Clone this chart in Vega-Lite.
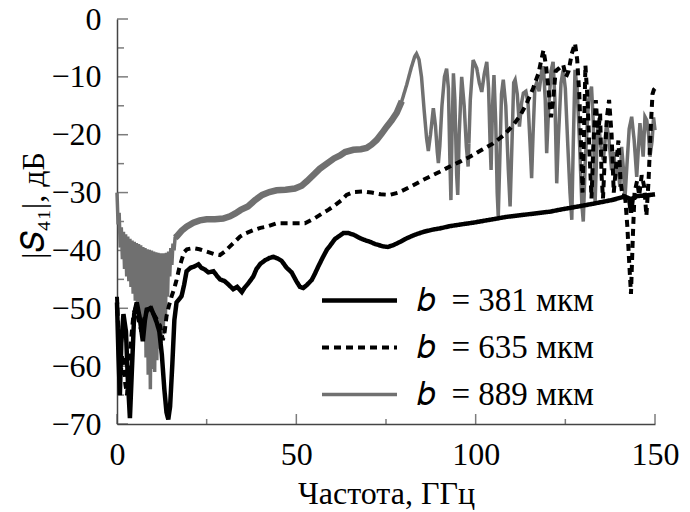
{
"$schema": "https://vega.github.io/schema/vega-lite/v6.json",
"width": 538, "height": 405,
"autosize": {"type": "none"},
"padding": {"left": 117, "top": 19, "right": 35, "bottom": 88},
"background": "white",
"config": {
  "view": {"stroke": null},
  "font": "Liberation Serif",
  "axis": {"grid": false, "ticks": false, "domainColor": "#444", "domainWidth": 1.5,
    "labelFont": "Liberation Serif", "labelFontSize": 32, "labelColor": "#000", "labelFlush": false,
    "titleFont": "Liberation Serif", "titleFontSize": 32, "titleFontWeight": "normal", "titleColor": "#000"}
},
"data": {"values": [
{"s":"889","f":0.0,"v":-30.0},{"s":"889","f":0.3,"v":-35.5},{"s":"889","f":0.6,"v":-33.5},{"s":"889","f":0.9,"v":-39.5},{"s":"889","f":1.2,"v":-36.0},{"s":"889","f":1.5,"v":-41.5},{"s":"889","f":1.8,"v":-36.8},{"s":"889","f":2.1,"v":-43.2},{"s":"889","f":2.4,"v":-37.2},{"s":"889","f":2.7,"v":-44.5},{"s":"889","f":3.0,"v":-37.6},{"s":"889","f":3.3,"v":-45.3},{"s":"889","f":3.6,"v":-38.0},{"s":"889","f":3.9,"v":-46.3},{"s":"889","f":4.2,"v":-38.3},{"s":"889","f":4.5,"v":-47.5},{"s":"889","f":4.8,"v":-38.5},{"s":"889","f":5.1,"v":-48.7},{"s":"889","f":5.4,"v":-38.7},{"s":"889","f":5.7,"v":-49.5},{"s":"889","f":6.0,"v":-38.9},{"s":"889","f":6.3,"v":-50.2},{"s":"889","f":6.6,"v":-39.1},{"s":"889","f":6.9,"v":-52.5},{"s":"889","f":7.2,"v":-39.4},{"s":"889","f":7.5,"v":-55.0},{"s":"889","f":7.8,"v":-39.6},{"s":"889","f":8.1,"v":-58.5},{"s":"889","f":8.4,"v":-39.8},{"s":"889","f":8.7,"v":-61.5},{"s":"889","f":9.0,"v":-39.9},{"s":"889","f":9.3,"v":-64.0},{"s":"889","f":9.6,"v":-40.0},{"s":"889","f":9.9,"v":-60.5},{"s":"889","f":10.2,"v":-40.2},{"s":"889","f":10.5,"v":-61.0},{"s":"889","f":10.8,"v":-40.3},{"s":"889","f":11.1,"v":-59.0},{"s":"889","f":11.4,"v":-40.4},{"s":"889","f":11.7,"v":-57.0},{"s":"889","f":12.0,"v":-40.5},{"s":"889","f":12.3,"v":-56.0},{"s":"889","f":12.6,"v":-40.5},{"s":"889","f":12.9,"v":-54.5},{"s":"889","f":13.2,"v":-40.5},{"s":"889","f":13.5,"v":-51.5},{"s":"889","f":13.8,"v":-40.4},{"s":"889","f":14.1,"v":-48.0},{"s":"889","f":14.4,"v":-40.2},{"s":"889","f":14.7,"v":-44.5},{"s":"889","f":15.0,"v":-39.6},{"s":"889","f":15.3,"v":-42.5},{"s":"889","f":15.6,"v":-38.8},{"s":"889","f":15.9,"v":-40.0},{"s":"889","f":16.2,"v":-37.8},
{"s":"889","f":16.6,"v":-37.6},{"s":"889","f":18.0,"v":-36.6},{"s":"889","f":19.4,"v":-35.9},{"s":"889","f":21.3,"v":-35.2},{"s":"889","f":23.1,"v":-34.8},{"s":"889","f":25.0,"v":-34.6},{"s":"889","f":27.3,"v":-34.6},{"s":"889","f":29.6,"v":-34.5},{"s":"889","f":31.5,"v":-34.1},{"s":"889","f":33.0,"v":-33.6},{"s":"889","f":34.5,"v":-33.0},{"s":"889","f":36.5,"v":-32.4},{"s":"889","f":38.5,"v":-31.3},{"s":"889","f":40.5,"v":-30.4},{"s":"889","f":42.5,"v":-29.9},{"s":"889","f":44.5,"v":-29.6},{"s":"889","f":47.0,"v":-29.5},{"s":"889","f":49.6,"v":-29.3},{"s":"889","f":51.5,"v":-28.8},{"s":"889","f":53.0,"v":-28.0},{"s":"889","f":55.0,"v":-26.8},{"s":"889","f":56.5,"v":-25.9},{"s":"889","f":58.5,"v":-25.0},{"s":"889","f":60.5,"v":-24.1},{"s":"889","f":62.2,"v":-23.6},{"s":"889","f":63.6,"v":-23.0},{"s":"889","f":65.9,"v":-22.6},{"s":"889","f":68.0,"v":-22.5},{"s":"889","f":69.6,"v":-22.3},{"s":"889","f":71.0,"v":-21.7},{"s":"889","f":72.4,"v":-20.9},{"s":"889","f":73.8,"v":-19.8},{"s":"889","f":75.2,"v":-18.6},{"s":"889","f":76.6,"v":-17.5},{"s":"889","f":78.0,"v":-16.2},{"s":"889","f":79.4,"v":-14.2},{"s":"889","f":80.8,"v":-11.3},{"s":"889","f":82.0,"v":-8.5},{"s":"889","f":83.0,"v":-6.5},{"s":"889","f":83.5,"v":-6.0},{"s":"889","f":84.2,"v":-7.0},{"s":"889","f":84.9,"v":-10.0},{"s":"889","f":85.6,"v":-15.5},{"s":"889","f":86.3,"v":-20.5},{"s":"889","f":86.8,"v":-22.8},{"s":"889","f":87.4,"v":-20.0},{"s":"889","f":88.2,"v":-15.4},{"s":"889","f":88.8,"v":-18.5},{"s":"889","f":89.3,"v":-23.0},{"s":"889","f":89.6,"v":-24.9},{"s":"889","f":90.0,"v":-22.0},{"s":"889","f":90.6,"v":-15.0},{"s":"889","f":91.3,"v":-10.0},{"s":"889","f":91.9,"v":-8.6},{"s":"889","f":92.4,"v":-12.0},{"s":"889","f":92.8,"v":-24.0},{"s":"889","f":93.1,"v":-31.3},{"s":"889","f":93.4,"v":-20.0},{"s":"889","f":93.8,"v":-9.4},{"s":"889","f":94.2,"v":-14.0},{"s":"889","f":94.7,"v":-27.0},{"s":"889","f":95.0,"v":-30.4},{"s":"889","f":95.4,"v":-20.0},{"s":"889","f":96.1,"v":-10.0},{"s":"889","f":96.8,"v":-15.0},{"s":"889","f":97.4,"v":-22.0},{"s":"889","f":97.9,"v":-25.5},{"s":"889","f":98.5,"v":-14.0},{"s":"889","f":99.3,"v":-7.1},{"s":"889","f":100.3,"v":-8.5},{"s":"889","f":101.0,"v":-11.0},{"s":"889","f":101.7,"v":-12.6},{"s":"889","f":102.4,"v":-9.5},{"s":"889","f":103.1,"v":-7.4},{"s":"889","f":103.6,"v":-12.0},{"s":"889","f":104.0,"v":-21.0},{"s":"889","f":104.3,"v":-26.1},{"s":"889","f":104.7,"v":-15.0},{"s":"889","f":105.1,"v":-9.7},{"s":"889","f":105.6,"v":-18.0},{"s":"889","f":106.0,"v":-30.0},{"s":"889","f":106.3,"v":-34.2},{"s":"889","f":106.7,"v":-25.0},{"s":"889","f":107.2,"v":-13.0},{"s":"889","f":107.7,"v":-10.5},{"s":"889","f":108.4,"v":-15.0},{"s":"889","f":109.1,"v":-26.0},{"s":"889","f":109.6,"v":-32.4},{"s":"889","f":110.1,"v":-22.0},{"s":"889","f":110.6,"v":-11.0},{"s":"889","f":111.0,"v":-10.5},{"s":"889","f":111.6,"v":-13.0},{"s":"889","f":112.2,"v":-18.6},{"s":"889","f":112.8,"v":-14.5},{"s":"889","f":113.3,"v":-12.8},{"s":"889","f":114.0,"v":-12.5},{"s":"889","f":114.6,"v":-14.5},{"s":"889","f":115.2,"v":-22.0},{"s":"889","f":115.6,"v":-27.5},{"s":"889","f":116.0,"v":-20.0},{"s":"889","f":116.5,"v":-12.0},{"s":"889","f":117.0,"v":-11.0},{"s":"889","f":117.7,"v":-12.5},{"s":"889","f":118.4,"v":-9.0},{"s":"889","f":118.9,"v":-8.2},{"s":"889","f":119.4,"v":-14.0},{"s":"889","f":119.8,"v":-23.2},{"s":"889","f":120.3,"v":-16.0},{"s":"889","f":121.0,"v":-9.0},{"s":"889","f":121.6,"v":-7.4},{"s":"889","f":122.1,"v":-14.0},{"s":"889","f":122.6,"v":-28.4},{"s":"889","f":123.1,"v":-20.0},{"s":"889","f":123.8,"v":-11.0},{"s":"889","f":124.4,"v":-8.8},{"s":"889","f":125.0,"v":-12.0},{"s":"889","f":125.7,"v":-22.0},{"s":"889","f":126.3,"v":-30.0},{"s":"889","f":126.8,"v":-34.7},{"s":"889","f":127.2,"v":-22.0},{"s":"889","f":127.7,"v":-8.8},{"s":"889","f":128.3,"v":-12.0},{"s":"889","f":129.0,"v":-22.0},{"s":"889","f":129.6,"v":-32.0},{"s":"889","f":130.0,"v":-35.0},{"s":"889","f":130.6,"v":-24.0},{"s":"889","f":131.5,"v":-14.0},{"s":"889","f":132.3,"v":-11.7},{"s":"889","f":132.8,"v":-18.0},{"s":"889","f":133.3,"v":-31.8},{"s":"889","f":133.8,"v":-22.0},{"s":"889","f":134.2,"v":-17.5},{"s":"889","f":134.9,"v":-22.0},{"s":"889","f":135.6,"v":-24.4},{"s":"889","f":136.5,"v":-18.0},{"s":"889","f":137.2,"v":-21.0},{"s":"889","f":137.9,"v":-26.1},{"s":"889","f":138.5,"v":-23.0},{"s":"889","f":139.0,"v":-27.0},{"s":"889","f":139.6,"v":-25.0},{"s":"889","f":140.2,"v":-29.0},{"s":"889","f":140.7,"v":-22.1},{"s":"889","f":141.2,"v":-26.0},{"s":"889","f":141.6,"v":-31.3},{"s":"889","f":142.2,"v":-25.0},{"s":"889","f":142.8,"v":-19.0},{"s":"889","f":143.5,"v":-16.9},{"s":"889","f":144.2,"v":-21.0},{"s":"889","f":144.9,"v":-27.3},{"s":"889","f":145.4,"v":-22.0},{"s":"889","f":145.8,"v":-18.0},{"s":"889","f":146.3,"v":-21.0},{"s":"889","f":146.7,"v":-23.8},{"s":"889","f":147.2,"v":-16.9},{"s":"889","f":147.7,"v":-17.5},{"s":"889","f":148.2,"v":-20.0},{"s":"889","f":148.6,"v":-23.8},{"s":"889","f":149.2,"v":-21.0},{"s":"889","f":149.6,"v":-17.0},{"s":"889","f":150.0,"v":-19.2},
{"s":"635","f":0.0,"v":-48},{"s":"635","f":0.3,"v":-53},{"s":"635","f":0.6,"v":-57},{"s":"635","f":1.0,"v":-62},{"s":"635","f":1.4,"v":-58},{"s":"635","f":1.8,"v":-58.4},{"s":"635","f":2.3,"v":-63},{"s":"635","f":2.8,"v":-65},{"s":"635","f":3.3,"v":-60},{"s":"635","f":4.0,"v":-55},{"s":"635","f":4.6,"v":-51},{"s":"635","f":5.2,"v":-50},{"s":"635","f":6.0,"v":-52},{"s":"635","f":6.8,"v":-54},{"s":"635","f":7.5,"v":-52},{"s":"635","f":8.3,"v":-50.5},{"s":"635","f":9.2,"v":-50},{"s":"635","f":10.0,"v":-50.8},{"s":"635","f":11.0,"v":-51.8},{"s":"635","f":12.0,"v":-53},{"s":"635","f":12.8,"v":-55.5},{"s":"635","f":13.3,"v":-54},{"s":"635","f":13.8,"v":-51.4},{"s":"635","f":14.5,"v":-49.5},{"s":"635","f":15.2,"v":-48},{"s":"635","f":16.0,"v":-46.5},{"s":"635","f":16.6,"v":-45.1},{"s":"635","f":17.3,"v":-43.2},{"s":"635","f":18.0,"v":-41.7},{"s":"635","f":18.7,"v":-40.3},{"s":"635","f":19.5,"v":-39.8},{"s":"635","f":21.3,"v":-39.6},{"s":"635","f":23.0,"v":-39.8},{"s":"635","f":25.0,"v":-40.2},{"s":"635","f":27.0,"v":-40.6},{"s":"635","f":28.7,"v":-40.8},{"s":"635","f":30.0,"v":-40.2},{"s":"635","f":31.5,"v":-39.3},{"s":"635","f":33.0,"v":-38.4},{"s":"635","f":34.3,"v":-37.6},{"s":"635","f":36.0,"v":-37.0},{"s":"635","f":38.0,"v":-36.5},{"s":"635","f":40.0,"v":-36.1},{"s":"635","f":41.7,"v":-35.9},{"s":"635","f":44.5,"v":-35.3},{"s":"635","f":48.7,"v":-35.3},{"s":"635","f":52.4,"v":-35.3},{"s":"635","f":55.2,"v":-34.4},{"s":"635","f":57.0,"v":-33.7},{"s":"635","f":58.9,"v":-33.0},{"s":"635","f":60.5,"v":-32.3},{"s":"635","f":62.6,"v":-31.3},{"s":"635","f":64.0,"v":-30.4},{"s":"635","f":66.0,"v":-29.9},{"s":"635","f":68.7,"v":-29.8},{"s":"635","f":71.0,"v":-30.0},{"s":"635","f":73.5,"v":-30.3},{"s":"635","f":76.1,"v":-30.4},{"s":"635","f":78.5,"v":-30.0},{"s":"635","f":80.8,"v":-29.3},{"s":"635","f":83.0,"v":-28.6},{"s":"635","f":85.4,"v":-27.8},{"s":"635","f":88.0,"v":-27.0},{"s":"635","f":90.0,"v":-26.4},{"s":"635","f":92.8,"v":-25.5},{"s":"635","f":95.5,"v":-24.7},{"s":"635","f":98.4,"v":-23.8},{"s":"635","f":101.5,"v":-22.7},{"s":"635","f":104.9,"v":-21.5},{"s":"635","f":108.0,"v":-20.0},{"s":"635","f":110.5,"v":-18.3},{"s":"635","f":112.5,"v":-16.6},{"s":"635","f":114.2,"v":-14.6},{"s":"635","f":116.0,"v":-12.0},{"s":"635","f":117.5,"v":-9.4},{"s":"635","f":118.9,"v":-5.4},{"s":"635","f":119.6,"v":-8},{"s":"635","f":120.3,"v":-12},{"s":"635","f":121.0,"v":-17},{"s":"635","f":121.6,"v":-14},{"s":"635","f":122.3,"v":-9},{"s":"635","f":123.3,"v":-8.5},{"s":"635","f":124.4,"v":-7.9},{"s":"635","f":125.2,"v":-10},{"s":"635","f":125.9,"v":-9},{"s":"635","f":126.8,"v":-6},{"s":"635","f":127.7,"v":-4.2},{"s":"635","f":128.3,"v":-7},{"s":"635","f":128.9,"v":-13},{"s":"635","f":129.4,"v":-22},{"s":"635","f":129.8,"v":-30},{"s":"635","f":130.2,"v":-20},{"s":"635","f":130.6,"v":-8},{"s":"635","f":131.2,"v":-14},{"s":"635","f":131.8,"v":-24},{"s":"635","f":132.3,"v":-31},{"s":"635","f":132.8,"v":-22},{"s":"635","f":133.5,"v":-14},{"s":"635","f":134.1,"v":-20},{"s":"635","f":134.7,"v":-16.3},{"s":"635","f":135.1,"v":-27},{"s":"635","f":135.5,"v":-31},{"s":"635","f":136.0,"v":-24},{"s":"635","f":136.6,"v":-17},{"s":"635","f":137.2,"v":-14},{"s":"635","f":137.9,"v":-20},{"s":"635","f":138.5,"v":-30},{"s":"635","f":139.2,"v":-25},{"s":"635","f":139.8,"v":-21},{"s":"635","f":140.4,"v":-28},{"s":"635","f":141.0,"v":-31},{"s":"635","f":141.6,"v":-30},{"s":"635","f":142.3,"v":-36},{"s":"635","f":142.8,"v":-42},{"s":"635","f":143.3,"v":-47.5},{"s":"635","f":143.8,"v":-38},{"s":"635","f":144.3,"v":-30},{"s":"635","f":145.0,"v":-28},{"s":"635","f":145.6,"v":-30.5},{"s":"635","f":146.3,"v":-27},{"s":"635","f":147.0,"v":-29},{"s":"635","f":147.6,"v":-34},{"s":"635","f":148.2,"v":-28},{"s":"635","f":148.8,"v":-19},{"s":"635","f":149.3,"v":-13},{"s":"635","f":149.7,"v":-12.2},{"s":"635","f":150.0,"v":-12},
{"s":"381","f":0.0,"v":-49},{"s":"381","f":0.4,"v":-58},{"s":"381","f":0.8,"v":-65},{"s":"381","f":1.2,"v":-56},{"s":"381","f":1.8,"v":-51},{"s":"381","f":2.5,"v":-54},{"s":"381","f":3.0,"v":-62},{"s":"381","f":3.6,"v":-69},{"s":"381","f":4.2,"v":-60},{"s":"381","f":4.8,"v":-51},{"s":"381","f":5.5,"v":-49},{"s":"381","f":6.3,"v":-51.5},{"s":"381","f":7.2,"v":-55.7},{"s":"381","f":7.8,"v":-52},{"s":"381","f":8.3,"v":-50.2},{"s":"381","f":9.5,"v":-50},{"s":"381","f":10.5,"v":-51.5},{"s":"381","f":11.1,"v":-52.5},{"s":"381","f":11.8,"v":-54},{"s":"381","f":12.5,"v":-58},{"s":"381","f":13.2,"v":-64},{"s":"381","f":13.8,"v":-68},{"s":"381","f":14.3,"v":-69.2},{"s":"381","f":14.8,"v":-67},{"s":"381","f":15.4,"v":-60},{"s":"381","f":16.0,"v":-52},{"s":"381","f":16.6,"v":-49},{"s":"381","f":18.0,"v":-47.9},{"s":"381","f":18.7,"v":-46},{"s":"381","f":19.4,"v":-43.6},{"s":"381","f":20.5,"v":-43},{"s":"381","f":21.5,"v":-42.8},{"s":"381","f":22.7,"v":-42.4},{"s":"381","f":23.5,"v":-43},{"s":"381","f":24.5,"v":-43.3},{"s":"381","f":25.5,"v":-43.8},{"s":"381","f":26.9,"v":-43.6},{"s":"381","f":28.0,"v":-44.5},{"s":"381","f":28.7,"v":-45},{"s":"381","f":30.0,"v":-45.3},{"s":"381","f":30.9,"v":-45.8},{"s":"381","f":32.4,"v":-46.7},{"s":"381","f":33.5,"v":-46.3},{"s":"381","f":34.8,"v":-47.2},{"s":"381","f":35.5,"v":-46.5},{"s":"381","f":36.6,"v":-45.7},{"s":"381","f":38.0,"v":-44.5},{"s":"381","f":38.9,"v":-43.2},{"s":"381","f":40.0,"v":-42.3},{"s":"381","f":41.3,"v":-41.7},{"s":"381","f":42.5,"v":-41.3},{"s":"381","f":43.6,"v":-41.1},{"s":"381","f":44.8,"v":-41.4},{"s":"381","f":45.9,"v":-41.8},{"s":"381","f":47.3,"v":-43.0},{"s":"381","f":48.7,"v":-43.8},{"s":"381","f":50.0,"v":-45.3},{"s":"381","f":51.0,"v":-46.3},{"s":"381","f":51.9,"v":-46.5},{"s":"381","f":52.9,"v":-46.0},{"s":"381","f":54.3,"v":-45.1},{"s":"381","f":55.2,"v":-44.0},{"s":"381","f":56.1,"v":-42.8},{"s":"381","f":57.3,"v":-41.3},{"s":"381","f":58.5,"v":-39.9},{"s":"381","f":59.5,"v":-39.1},{"s":"381","f":60.8,"v":-38.0},{"s":"381","f":62.0,"v":-37.5},{"s":"381","f":63.1,"v":-37.0},{"s":"381","f":64.5,"v":-37.0},{"s":"381","f":66.0,"v":-37.3},{"s":"381","f":67.5,"v":-37.8},{"s":"381","f":69.0,"v":-38.2},{"s":"381","f":70.5,"v":-38.5},{"s":"381","f":72.0,"v":-38.9},{"s":"381","f":74.2,"v":-39.3},{"s":"381","f":75.5,"v":-39.4},{"s":"381","f":77.0,"v":-39.1},{"s":"381","f":79.0,"v":-38.5},{"s":"381","f":80.8,"v":-37.9},{"s":"381","f":83.0,"v":-37.3},{"s":"381","f":85.4,"v":-36.8},{"s":"381","f":88.0,"v":-36.4},{"s":"381","f":90.0,"v":-36.2},{"s":"381","f":92.8,"v":-35.8},{"s":"381","f":96.0,"v":-35.5},{"s":"381","f":99.3,"v":-35.2},{"s":"381","f":104.0,"v":-34.7},{"s":"381","f":108.6,"v":-34.2},{"s":"381","f":114.0,"v":-33.8},{"s":"381","f":120.7,"v":-33.3},{"s":"381","f":124.0,"v":-32.9},{"s":"381","f":128.6,"v":-32.4},{"s":"381","f":133.0,"v":-31.9},{"s":"381","f":137.9,"v":-31.3},{"s":"381","f":141.6,"v":-30.7},{"s":"381","f":142.8,"v":-31},{"s":"381","f":143.3,"v":-33.5},{"s":"381","f":143.8,"v":-31},{"s":"381","f":145.0,"v":-30.6},{"s":"381","f":147.5,"v":-30.5},{"s":"381","f":150.0,"v":-30.3}
]},
"layer": [
  {
    "data": {"values": [{"f": 0}, {"f": 50}, {"f": 100}, {"f": 150}]},
    "mark": {"type": "tick", "orient": "vertical", "color": "#444", "thickness": 1.5, "size": 10, "yOffset": -5},
    "encoding": {
      "x": {"field": "f", "type": "quantitative", "title": "Частота, ГГц", "scale": {"domain": [0, 150], "nice": false}},
      "y": {"datum": -70, "type": "quantitative", "scale": {"domain": [-70, 0], "nice": false}}
    }
  },
  {
    "data": {"values": [{"f": 25}, {"f": 75}, {"f": 125}]},
    "mark": {"type": "tick", "orient": "vertical", "color": "#444", "thickness": 1.5, "size": 5, "yOffset": -2.5},
    "encoding": {
      "x": {"field": "f", "type": "quantitative", "title": "Частота, ГГц", "scale": {"domain": [0, 150], "nice": false}},
      "y": {"datum": -70, "type": "quantitative", "scale": {"domain": [-70, 0], "nice": false}}
    }
  },
  {
    "data": {"values": [{"v": -70}, {"v": -60}, {"v": -50}, {"v": -40}, {"v": -30}, {"v": -20}, {"v": -10}, {"v": 0}]},
    "mark": {"type": "tick", "orient": "horizontal", "color": "#444", "thickness": 1.5, "size": 11, "xOffset": 5.5},
    "encoding": {
      "x": {"datum": 0, "type": "quantitative", "scale": {"domain": [0, 150], "nice": false}},
      "y": {"field": "v", "type": "quantitative", "title": "|𝑆₄₁|, дБ", "scale": {"domain": [-70, 0], "nice": false}}
    }
  },
  {
    "data": {"values": [{"v": -65}, {"v": -55}, {"v": -45}, {"v": -35}, {"v": -25}, {"v": -15}, {"v": -5}]},
    "mark": {"type": "tick", "orient": "horizontal", "color": "#444", "thickness": 1.5, "size": 7, "xOffset": 3.5},
    "encoding": {
      "x": {"datum": 0, "type": "quantitative", "scale": {"domain": [0, 150], "nice": false}},
      "y": {"field": "v", "type": "quantitative", "title": "|𝑆₄₁|, дБ", "scale": {"domain": [-70, 0], "nice": false}}
    }
  },
  {
    "transform": [{"filter": "datum.s === '889' && datum.f >= 16.2 && datum.f <= 79.4"}],
    "mark": {"type": "line", "color": "#707070", "strokeWidth": 6.5},
    "encoding": {
      "x": {"field": "f", "type": "quantitative", "title": "Частота, ГГц", "scale": {"domain": [0, 150], "nice": false}},
      "y": {"field": "v", "type": "quantitative", "title": "|𝑆₄₁|, дБ", "scale": {"domain": [-70, 0], "nice": false}}
    }
  },
  {
    "mark": {"type": "line"},
    "encoding": {
      "x": {"field": "f", "type": "quantitative", "title": "Частота, ГГц", "scale": {"domain": [0, 150], "nice": false},
        "axis": {"values": [0, 50, 100, 150], "labelFont": "Liberation Serif", "labelFlush": false, "labelOverlap": false,
          "ticks": false, "labelPadding": 15, "title": "Частота, ГГц", "titleFont": "Liberation Serif", "titleY": 79, "titleBaseline": "alphabetic"}},
      "y": {"field": "v", "type": "quantitative", "title": "|𝑆₄₁|, дБ", "scale": {"domain": [-70, 0], "nice": false},
        "axis": {"values": [-70, -60, -50, -40, -30, -20, -10, 0], "labelFont": "Liberation Serif", "labelOverlap": false,
          "ticks": false, "labelPadding": 16, "title": "|𝑆₄₁|, дБ", "titleFont": "Liberation Serif", "titleX": -84, "titleY": 186, "titleBaseline": "middle"}},
      "color": {"field": "s", "type": "nominal", "scale": {"domain": ["381", "635", "889"], "range": ["#000000", "#000000", "#707070"]},
        "legend": {"orient": "none", "legendX": 226, "legendY": 265, "title": null, "symbolType": "M-5,0H5", "symbolSize": 225,
          "labelFontSize": 33, "labelFont": "Liberation Serif", "labelColor": "#000", "labelLimit": 400, "rowPadding": 13, "labelOffset": 41,
          "labelExpr": "'𝑏\u2002= ' + datum.label + ' мкм'"}},
      "strokeDash": {"field": "s", "type": "nominal", "scale": {"domain": ["381", "635", "889"], "range": [[1, 0], [7, 5], [1, 0]]}},
      "strokeWidth": {"field": "s", "type": "nominal", "scale": {"domain": ["381", "635", "889"], "range": [4.5, 3.5, 3.5]}}
    }
  }
]
}
